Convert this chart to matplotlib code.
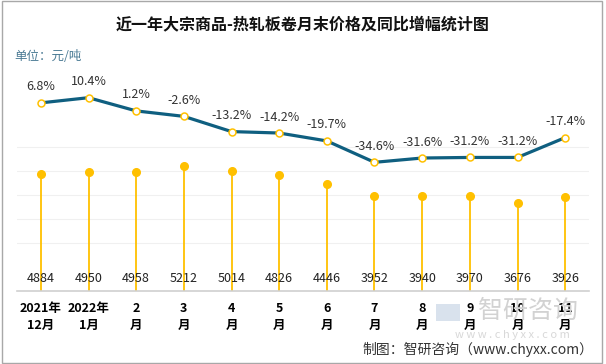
import matplotlib.pyplot as plt
from matplotlib.patches import Rectangle

plt.rcParams['font.family'] = ['Noto Sans CJK SC', 'DejaVu Sans']

# data
months = ['2021年\n12月', '2022年\n1月', '2\n月', '3\n月', '4\n月', '5\n月',
          '6\n月', '7\n月', '8\n月', '9\n月', '10\n月', '11\n月']
price = [4884, 4950, 4958, 5212, 5014, 4826, 4446, 3952, 3940, 3970, 3676, 3926]
yoy = [6.8, 10.4, 1.2, -2.6, -13.2, -14.2, -19.7, -34.6, -31.6, -31.2, -31.2, -17.4]

W, H = 606, 364
fig = plt.figure(figsize=(W / 100, H / 100), dpi=100)

# axes placed in pixel terms of the reference
left, right, bottom, top = 17, 589, 291, 75
ax = fig.add_axes([left / W, 1 - bottom / H, (right - left) / W, (bottom - top) / H])
x = list(range(len(months)))

gold = '#ffc000'
teal = '#0f5f80'

# faint grid
for g in [2000, 3000, 4000, 5000, 6000]:
    ax.axhline(g, color='#f0f0f0', lw=0.8, zorder=0)

ax.vlines(x, 0, price, color=gold, lw=1.3, zorder=2)
ax.plot(x, price, 'o', color=gold, ms=5.5, zorder=3)
for i, v in enumerate(price):
    ax.annotate(str(v), (i, 0), xytext=(0, 12), textcoords='offset pixels',
                ha='center', va='center', fontsize=9, color='#222222', zorder=4)

ax.set_xlim(-0.5, len(months) - 0.5)
ax.set_ylim(0, 9000)
ax.set_yticks([])
for s in ['top', 'right', 'left']:
    ax.spines[s].set_visible(False)
ax.spines['bottom'].set_color('#d0d0d0')
ax.spines['bottom'].set_linewidth(1.2)
ax.set_xticks(x)
ax.set_xticklabels(months, fontsize=9, fontweight='bold', linespacing=1.35)
ax.tick_params(axis='x', length=0, pad=8)

ax2 = ax.twinx()
ax2.plot(x, yoy, '-', color=teal, lw=2.3, zorder=3)
ax2.plot(x, yoy, 'o', mfc='white', mec=gold, mew=1.1, ms=5, zorder=4)
for i, v in enumerate(yoy):
    ax2.annotate(f'{v:.1f}%', (i, v), xytext=(0, 16), textcoords='offset pixels',
                 ha='center', va='center', fontsize=9, color='#333333')
ax2.set_ylim(-124.2, 26.2)
ax2.set_yticks([])
for s in ax2.spines.values():
    s.set_visible(False)

fig.text(303 / W, 1 - 24 / H, '近一年大宗商品-热轧板卷月末价格及同比增幅统计图',
         ha='center', va='center', fontsize=11.5, fontweight='bold', color='#111111')
fig.text(14 / W, 1 - 57 / H, '单位：元/吨', ha='left', va='center',
         fontsize=9, color='#4a7a94')

# watermark
fig.text(528 / W, 1 - 311 / H, '智研咨询', ha='center', va='center',
         fontsize=18, color='#d2d2d2', zorder=0)
fig.text(512 / W, 1 - 335 / H, 'w w w . c h y x x . c o m', ha='center', va='center',
         fontsize=8, color='#d8d8d8', zorder=0)
fig.patches.append(Rectangle((436 / W, 1 - 321 / H), 24 / W, 17 / H,
                             transform=fig.transFigure, facecolor='#c9d6e6',
                             edgecolor='none', alpha=0.7, zorder=0))

fig.text(593 / W, 1 - 349 / H, '制图：智研咨询（www.chyxx.com）', ha='right', va='center',
         fontsize=10, color='#333333')

fig.patches.append(Rectangle((2 / W, 1 / H), 600 / W, 362 / H,
                             transform=fig.transFigure, fill=False,
                             edgecolor='#a8a8a8', lw=1))

fig.savefig('out.png', dpi=100)
